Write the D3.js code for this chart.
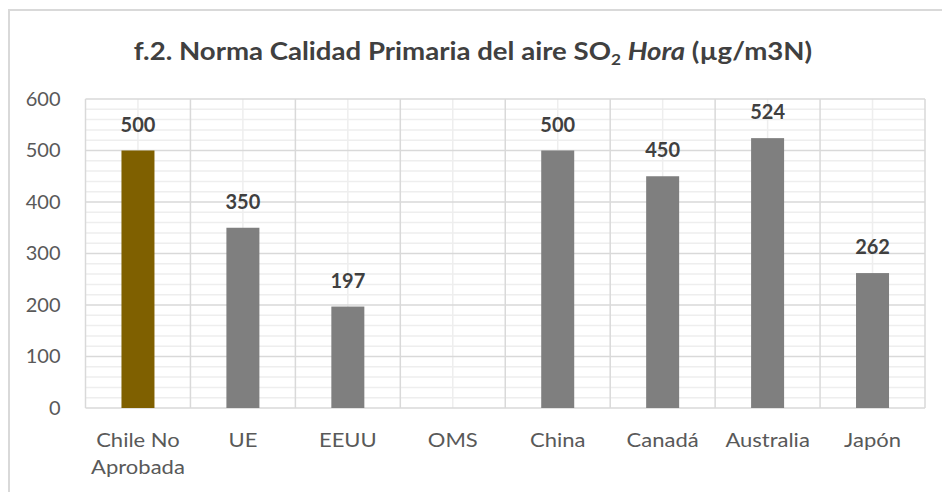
<!DOCTYPE html>
<html>
<head>
<meta charset="utf-8">
<script src="https://cdn.jsdelivr.net/npm/d3@7"></script>
<style>
  body { margin: 0; background: #fff; }
  text { font-family: Lato, "Open Sans", sans-serif; }
</style>
</head>
<body>
<div id="chart"></div>
<script>
var categories = ["Chile No\nAprobada", "UE", "EEUU", "OMS", "China", "Canadá", "Australia", "Japón"];
var values = [500, 350, 197, null, 500, 450, 524, 262];
var barColors = ["#7f6000", "#7f7f7f", "#7f7f7f", "#7f7f7f", "#7f7f7f", "#7f7f7f", "#7f7f7f", "#7f7f7f"];
var yTicks = [0, 100, 200, 300, 400, 500, 600];

var W = 942, H = 492;
var margin = {top: 99, right: 17, bottom: 84, left: 85.5},
    width = W - margin.left - margin.right,
    height = H - margin.top - margin.bottom;

var svg = d3.select("#chart")
  .append("svg")
    .attr("width", W)
    .attr("height", H);

// chart border (only top and left visible)
svg.append("rect")
    .attr("x", 9).attr("y", 10)
    .attr("width", 960).attr("height", 520)
    .attr("fill", "none")
    .attr("stroke", "#d9d9d9")
    .attr("stroke-width", 2);

var title = svg.append("text")
    .attr("transform", "translate(473,60) scale(1.15,1)")
    .attr("text-anchor", "middle")
    .style("font-size", "24px")
    .style("font-weight", "bold")
    .attr("fill", "#404040");
title.append("tspan").text("f.2. Norma Calidad Primaria del aire SO");
title.append("tspan").text("2").attr("dy", 5).style("font-size", "15px");
title.append("tspan").text(" ").attr("dy", -5);
title.append("tspan").text("Hora").style("font-style", "italic");
title.append("tspan").text(" (µg/m3N)");

var g = svg.append("g")
    .attr("transform", "translate(" + margin.left + "," + margin.top + ")");

var x = d3.scaleBand()
    .domain(categories)
    .range([0, width])
    .padding(0);

var y = d3.scaleLinear()
    .domain([0, 600])
    .range([height, 0]);

// minor horizontal grid
g.append("g")
  .selectAll("line")
  .data(d3.range(0, 601, 20).filter(function (d) { return d % 100 !== 0; }))
  .enter().append("line")
    .attr("x1", 0).attr("x2", width)
    .attr("y1", function (d) { return y(d); })
    .attr("y2", function (d) { return y(d); })
    .attr("stroke", "#eeeeee")
    .attr("stroke-width", 1.5);

// minor vertical grid (category centers)
g.append("g")
  .selectAll("line")
  .data(categories)
  .enter().append("line")
    .attr("x1", function (d) { return x(d) + x.bandwidth() / 2; })
    .attr("x2", function (d) { return x(d) + x.bandwidth() / 2; })
    .attr("y1", 0).attr("y2", height)
    .attr("stroke", "#eeeeee")
    .attr("stroke-width", 1.5);

// major horizontal grid
g.append("g")
  .selectAll("line")
  .data(yTicks)
  .enter().append("line")
    .attr("x1", 0).attr("x2", width)
    .attr("y1", function (d) { return y(d); })
    .attr("y2", function (d) { return y(d); })
    .attr("stroke", "#d9d9d9")
    .attr("stroke-width", 1.5);

// major vertical grid (category boundaries)
g.append("g")
  .selectAll("line")
  .data(d3.range(categories.length + 1))
  .enter().append("line")
    .attr("x1", function (i) { return i * x.step(); })
    .attr("x2", function (i) { return i * x.step(); })
    .attr("y1", 0).attr("y2", height)
    .attr("stroke", "#d9d9d9")
    .attr("stroke-width", 1.5);

// y axis labels
var yAxis = g.append("g")
    .call(d3.axisLeft(y).tickValues(yTicks).tickSize(0).tickPadding(25));
yAxis.select(".domain").remove();
yAxis.selectAll("text")
    .style("font-size", "20px")
    .style("font-family", "Lato, 'Open Sans', sans-serif")
    .attr("fill", "#595959");

// bars
var barW = 33;
var data = categories.map(function (c, i) { return {cat: c, v: values[i], color: barColors[i]}; })
    .filter(function (d) { return d.v !== null; });

g.selectAll(".bar")
  .data(data)
  .enter().append("rect")
    .attr("class", "bar")
    .attr("x", function (d) { return x(d.cat) + x.bandwidth() / 2 - barW / 2; })
    .attr("y", function (d) { return y(d.v); })
    .attr("width", barW)
    .attr("height", function (d) { return height - y(d.v); })
    .attr("fill", function (d) { return d.color; });

// data labels
g.selectAll(".lbl")
  .data(data)
  .enter().append("text")
    .attr("class", "lbl")
    .attr("x", function (d) { return x(d.cat) + x.bandwidth() / 2; })
    .attr("y", function (d) { return y(d.v) - 19; })
    .attr("text-anchor", "middle")
    .style("font-size", "20px")
    .style("font-weight", "bold")
    .attr("fill", "#404040")
    .text(function (d) { return d.v; });

// category labels
var xl = g.append("g").selectAll("text")
  .data(categories)
  .enter().append("text")
    .attr("transform", function (d) {
      return "translate(" + (x(d) + x.bandwidth() / 2) + "," + (height + 39) + ") scale(1.1,1)";
    })
    .attr("text-anchor", "middle")
    .style("font-size", "20px")
    .attr("fill", "#595959");
xl.each(function (d) {
  var t = d3.select(this);
  d.split("\n").forEach(function (line, i) {
    t.append("tspan")
      .attr("x", 0)
      .attr("dy", i === 0 ? 0 : 27)
      .text(line);
  });
});
</script>
</body>
</html>
